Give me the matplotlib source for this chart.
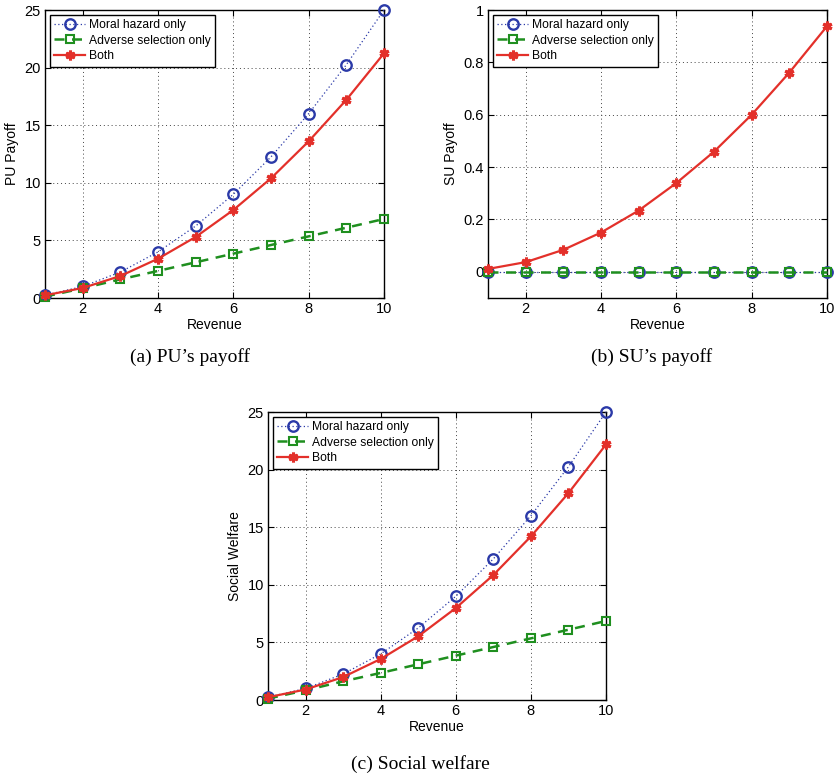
import matplotlib
matplotlib.use("Agg")
import matplotlib.pyplot as plt

revenue = [1, 2, 3, 4, 5, 6, 7, 8, 9, 10]

pu_moral = [0.25, 1.0, 2.25, 4.0, 6.25, 9.0, 12.25, 16.0, 20.25, 25.0]
pu_adverse = [0.12, 0.84, 1.62, 2.35, 3.1, 3.85, 4.6, 5.35, 6.1, 6.86]
pu_both = [0.23, 0.87, 1.91, 3.41, 5.3, 7.64, 10.39, 13.6, 17.2, 21.24]

su_moral = [0, 0, 0, 0, 0, 0, 0, 0, 0, 0]
su_adverse = [0, 0, 0, 0, 0, 0, 0, 0, 0, 0]
su_both = [0.011, 0.037, 0.084, 0.15, 0.234, 0.339, 0.459, 0.6, 0.761, 0.938]

sw_moral = [0.25, 1.0, 2.25, 4.0, 6.25, 9.0, 12.25, 16.0, 20.25, 25.0]
sw_adverse = [0.12, 0.84, 1.62, 2.35, 3.1, 3.85, 4.6, 5.35, 6.1, 6.86]
sw_both = [0.24, 0.91, 1.99, 3.56, 5.53, 7.98, 10.85, 14.2, 17.96, 22.18]

series_labels = ["Moral hazard only", "Adverse selection only", "Both"]
captions = ["(a) PU\u2019s payoff", "(b) SU\u2019s payoff", "(c) Social welfare"]
ylabels = ["PU Payoff", "SU Payoff", "Social Welfare"]
xticks = [2, 4, 6, 8, 10]

BLUE = "#2b3aa8"
GREEN = "#1f8f1f"
RED = "#e3302a"

plt.rcParams['font.family'] = ['Liberation Sans', 'DejaVu Sans']

fig = plt.figure(figsize=(8.36, 7.82), dpi=100)

positions = [
    [45/836, 1-298/782, 339/836, 288/782],
    [488/836, 1-298/782, 339/836, 288/782],
    [268/836, 1-700/782, 338/836, 288/782],
]
data = [
    (pu_moral, pu_adverse, pu_both, (0, 25), [0, 5, 10, 15, 20, 25], ["0", "5", "10", "15", "20", "25"]),
    (su_moral, su_adverse, su_both, (-0.1, 1), [0, 0.2, 0.4, 0.6, 0.8, 1], ["0", "0.2", "0.4", "0.6", "0.8", "1"]),
    (sw_moral, sw_adverse, sw_both, (0, 25), [0, 5, 10, 15, 20, 25], ["0", "5", "10", "15", "20", "25"]),
]

for i, (pos, (m, a, b, ylim, yt, ytl)) in enumerate(zip(positions, data)):
    ax = fig.add_axes(pos)
    ax.plot(revenue, m, color=BLUE, linestyle=(0, (1, 2)), linewidth=0.9,
            marker='o', markersize=7.5, markerfacecolor='none',
            markeredgecolor=BLUE, markeredgewidth=1.7, label=series_labels[0], clip_on=False, zorder=3)
    ax.plot(revenue, a, color=GREEN, linestyle=(0, (4, 3)), linewidth=1.8,
            marker='s', markersize=6, markerfacecolor='none',
            markeredgecolor=GREEN, markeredgewidth=1.5, label=series_labels[1], clip_on=False, zorder=3)
    ax.plot(revenue, b, color=RED, linestyle='-', linewidth=1.6,
            marker=(6, 2, 0), markersize=7, markeredgewidth=2.2,
            markerfacecolor=RED, markeredgecolor=RED, label=series_labels[2], clip_on=False, zorder=4)
    ax.set_xlim(1, 10)
    ax.set_ylim(*ylim)
    ax.set_xticks(xticks)
    ax.set_xticklabels([str(t) for t in xticks], fontsize=10.5)
    ax.set_yticks(yt)
    ax.set_yticklabels(ytl, fontsize=10.5)
    ax.tick_params(direction='in', top=True, right=True, length=4, width=0.8, pad=3)
    ax.grid(True, linestyle=(0, (1, 3)), color='#444444', linewidth=0.7)
    for s in ax.spines.values():
        s.set_linewidth(1.0)
    ax.set_xlabel("Revenue", fontsize=10, labelpad=1)
    ax.set_ylabel(ylabels[i], fontsize=10, labelpad=4)
    leg = ax.legend(loc='upper left', fontsize=8.7, fancybox=False, framealpha=1,
                    edgecolor='black', borderpad=0.35, labelspacing=0.3,
                    handlelength=2.6, handletextpad=0.3, borderaxespad=0.4)
    leg.get_frame().set_linewidth(1.0)

fig.text(190/836, 1-357/782, captions[0], family='Liberation Serif', fontsize=14, ha='center', va='center')
fig.text(652/836, 1-357/782, captions[1], family='Liberation Serif', fontsize=14, ha='center', va='center')
fig.text(420/836, 1-764/782, captions[2], family='Liberation Serif', fontsize=14, ha='center', va='center')

fig.savefig("out.png", dpi=100)
